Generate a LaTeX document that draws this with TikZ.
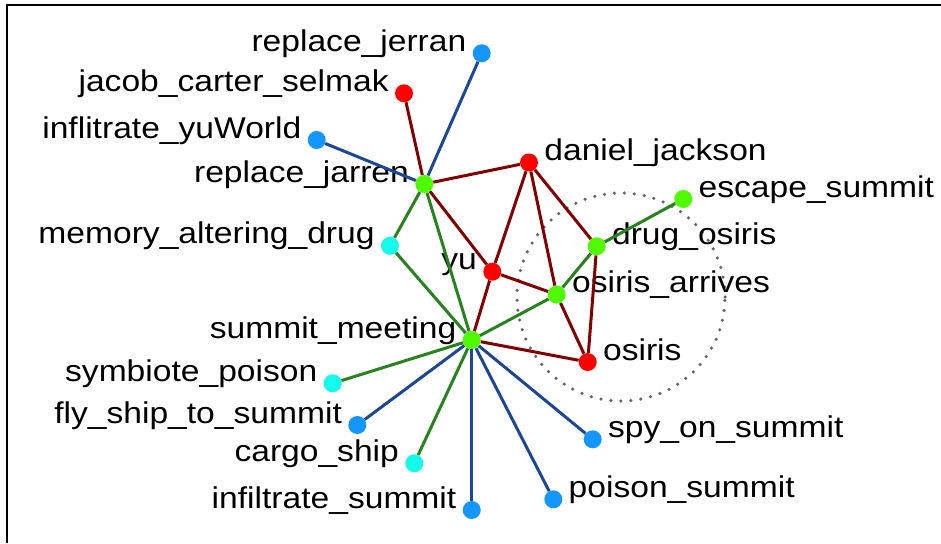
\documentclass[tikz,border=0pt]{standalone}
\usepackage{fontspec}
\setmainfont{Liberation Sans}[FakeStretch=1.12]
\definecolor{nodegreen}{RGB}{80,250,0}
\definecolor{nodered}{RGB}{255,0,0}
\definecolor{nodeblue}{RGB}{20,150,255}
\definecolor{nodecyan}{RGB}{20,250,235}
\definecolor{linkgreen}{RGB}{40,130,30}
\definecolor{linkred}{RGB}{128,0,0}
\definecolor{linkblue}{RGB}{30,70,150}
\tikzset{
  netnode/.style={circle, inner sep=0pt, minimum size=18pt},
  netgreen/.style={netnode, fill=nodegreen},
  netred/.style={netnode, fill=nodered},
  netblue/.style={netnode, fill=nodeblue},
  netcyan/.style={netnode, fill=nodecyan},
  nettext/.style={inner sep=0pt, font=\fontsize{30}{34}\selectfont, yshift=2pt},
  netleft/.style={nettext, anchor=base east, xshift=-6pt},
  netright/.style={nettext, anchor=base west, xshift=6pt},
  linkg/.style={line width=3pt, draw=linkgreen},
  linkr/.style={line width=3pt, draw=linkred},
  linkb/.style={line width=3pt, draw=linkblue},
  netring/.style={draw=black!60, line width=3.5pt, line cap=round, dash pattern=on 0pt off 10pt},
  netframe/.style={draw=black, line width=2pt}
}
\begin{document}
\begin{tikzpicture}[x=1pt, y=-1pt]
\useasboundingbox (0,0) rectangle (941,543);
\coordinate (fbl) at (7,543);
\coordinate (ftl) at (7,5);
\coordinate (ftr) at (941,5);
\draw[netframe] (fbl) -- (ftl) -- (ftr);
% dotted ring round the osiris group
\coordinate (ring) at (621,297);
\draw[netring] (ring) circle[radius=104pt];
% nodes
\node[netblue, label={[netleft]left:replace\_jerran}] (rjerran) at (481.7,53.3) {};
\node[netred, label={[netleft]left:jacob\_carter\_selmak}] (jcs) at (404,93.3) {};
\node[netblue, label={[netleft]left:inflitrate\_yuWorld}] (iyw) at (316.7,140) {};
\node[netgreen, label={[netleft]left:replace\_jarren}] (rjarren) at (424.3,184) {};
\node[netred, label={[netright]right:daniel\_jackson}] (dj) at (529,162.5) {};
\node[netgreen, label={[netright]right:escape\_summit}] (es) at (683.3,199) {};
\node[netgreen, label={[netright]right:drug\_osiris}] (dos) at (596.7,246.3) {};
\node[netcyan, label={[netleft]left:memory\_altering\_drug}] (mad) at (390,245.8) {};
\node[netred, label={[netleft]left:yu}] (yu) at (492.3,271.7) {};
\node[netgreen, label={[netright]right:osiris\_arrives}] (oa) at (556.7,294.6) {};
\node[netgreen, label={[netleft]left:summit\_meeting}] (sm) at (471.7,340) {};
\node[netred, label={[netright]right:osiris}] (os) at (587.7,362) {};
\node[netcyan, label={[netleft]left:symbiote\_poison}] (sp) at (332.7,383.3) {};
\node[netblue, label={[netleft]left:fly\_ship\_to\_summit}] (fly) at (357.3,425) {};
\node[netcyan, label={[netleft]left:cargo\_ship}] (cs) at (414.3,463.3) {};
\node[netblue, label={[netleft]left:infiltrate\_summit}] (inf) at (471.7,510) {};
\node[netblue, label={[netright]right:poison\_summit}] (ps) at (553.3,499.3) {};
\node[netblue, label={[netright]right:spy\_on\_summit}] (spy) at (592.7,439.3) {};
% links
\draw[linkb] (rjarren) -- (rjerran);
\draw[linkb] (rjarren) -- (iyw);
\draw[linkb] (sm) -- (fly);
\draw[linkb] (sm) -- (inf);
\draw[linkb] (sm) -- (ps);
\draw[linkb] (sm) -- (spy);
\draw[linkr] (rjarren) -- (jcs);
\draw[linkr] (rjarren) -- (dj);
\draw[linkr] (rjarren) -- (yu);
\draw[linkr] (yu) -- (oa);
\draw[linkr] (dj) -- (yu);
\draw[linkr] (dj) -- (oa);
\draw[linkr] (dj) -- (dos);
\draw[linkr] (dos) -- (os);
\draw[linkr] (oa) -- (os);
\draw[linkr] (sm) -- (os);
\draw[linkr] (sm) -- (yu);
\draw[linkg] (rjarren) -- (mad);
\draw[linkg] (mad) -- (sm);
\draw[linkg] (rjarren) -- (sm);
\draw[linkg] (sm) -- (oa);
\draw[linkg] (oa) -- (dos);
\draw[linkg] (dos) -- (es);
\draw[linkg] (sm) -- (sp);
\draw[linkg] (sm) -- (cs);
\end{tikzpicture}
\end{document}
